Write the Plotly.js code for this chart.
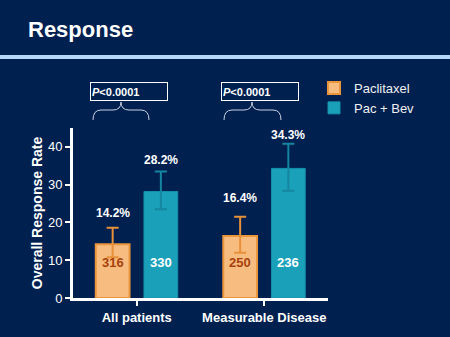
<!DOCTYPE html>
<html>
<head>
<meta charset="utf-8">
<script src="https://cdn.plot.ly/plotly-3.0.1.min.js"></script>
<style>
html,body{margin:0;padding:0;background:#002050;}
#chart{width:450px;height:337px;}
</style>
</head>
<body>
<div id="chart"></div>
<script>
// ---- data ----
const categories = ['All patients', 'Measurable Disease'];
const seriesNames = ['Paclitaxel', 'Pac + Bev'];
const pacValues = [14.2, 16.4];
const bevValues = [28.2, 34.3];
const pacErrPlus = [4.4, 5.1];
const pacErrMinus = [3.4, 4.4];
const bevErrPlus = [5.3, 6.5];
const bevErrMinus = [4.7, 5.9];
const pacN = ['316', '250'];
const bevN = ['330', '236'];
const pValues = ['P<0.0001', 'P<0.0001'];
const yTicks = [0, 10, 20, 30, 40];

// ---- layout helpers (pixel -> paper) ----
const L = 73, R = 328, T = 128, B = 298;
const px = x => (x - L) / (R - L);
const py = y => (B - y) / (B - T);
const FONT = 'Liberation Sans, Arial, Helvetica, sans-serif';
const pacLabelShift = [6, 10];
const bevLabelShift = [2, 0];

function bracePath(x1, x2, xc, ytop, ym, ybot) {
  const p = (x, y) => px(x) + ',' + py(y);
  return 'M' + p(x1, ybot) +
    ' Q' + p(x1, ym) + ' ' + p(x1 + 8, ym) +
    ' L' + p(xc - 8, ym) +
    ' Q' + p(xc, ym) + ' ' + p(xc, ytop) +
    ' Q' + p(xc, ym) + ' ' + p(xc + 8, ym) +
    ' L' + p(x2 - 8, ym) +
    ' Q' + p(x2, ym) + ' ' + p(x2, ybot);
}

const traces = [
  {
    type: 'bar', name: seriesNames[0], x: categories, y: pacValues,
    marker: {color: '#F6BC80', line: {color: '#EC963C', width: 2}},
    error_y: {type: 'data', symmetric: false, array: pacErrPlus, arrayminus: pacErrMinus,
              color: '#E8913A', thickness: 2, width: 6},
    hoverinfo: 'none'
  },
  {
    type: 'bar', name: seriesNames[1], x: categories, y: bevValues,
    marker: {color: '#1BA0BA', line: {color: '#1690AA', width: 1}},
    error_y: {type: 'data', symmetric: false, array: bevErrPlus, arrayminus: bevErrMinus,
              color: '#1585A0', thickness: 2, width: 6},
    hoverinfo: 'none'
  }
];

const annotations = [];
categories.forEach((c, i) => {
  // N labels inside bars
  annotations.push({x: c, y: 9.5, xref: 'x', yref: 'y', xshift: -24, text: '<b>' + pacN[i] + '</b>',
    showarrow: false, font: {family: FONT, size: 13, color: '#A8420C'}});
  annotations.push({x: c, y: 9.5, xref: 'x', yref: 'y', xshift: 24, text: '<b>' + bevN[i] + '</b>',
    showarrow: false, font: {family: FONT, size: 13, color: '#FFFFFF'}});
  // percent labels above error bars
  annotations.push({x: c, y: pacValues[i] + pacErrPlus[i], xref: 'x', yref: 'y', xshift: -24, yshift: pacLabelShift[i],
    yanchor: 'bottom', text: '<b>' + pacValues[i].toFixed(1) + '%</b>',
    showarrow: false, font: {family: FONT, size: 12, color: '#FFFFFF'}});
  annotations.push({x: c, y: bevValues[i] + bevErrPlus[i], xref: 'x', yref: 'y', xshift: 24, yshift: bevLabelShift[i],
    yanchor: 'bottom', text: '<b>' + bevValues[i].toFixed(1) + '%</b>',
    showarrow: false, font: {family: FONT, size: 12, color: '#FFFFFF'}});
});

// p-value boxes
const boxCenters = [128.5, 259.5];
pValues.forEach((p, i) => {
  const html = '<b><i>P</i>' + p.slice(1).replace('<', '&lt;') + '</b>';
  annotations.push({x: px(boxCenters[i]), y: py(91), xref: 'paper', yref: 'paper',
    xanchor: 'center', yanchor: 'middle',
    text: html, showarrow: false, width: 74, height: 15, align: 'left', valign: 'middle',
    bordercolor: '#FFFFFF', borderwidth: 1, borderpad: 1,
    font: {family: FONT, size: 11, color: '#FFFFFF'}});
});

const shapes = [
  {type: 'line', xref: 'paper', yref: 'paper', x0: px(0), x1: px(450), y0: py(57), y1: py(57),
   line: {color: '#B4D6F8', width: 4}},
  {type: 'path', xref: 'paper', yref: 'paper', path: bracePath(93, 149, 121, 102, 110, 120),
   line: {color: '#C8D2E2', width: 1}},
  {type: 'path', xref: 'paper', yref: 'paper', path: bracePath(224, 281, 252, 102, 110, 120),
   line: {color: '#C8D2E2', width: 1}}
];

const layout = {
  width: 450, height: 337,
  paper_bgcolor: '#002050', plot_bgcolor: '#002050',
  margin: {l: L, r: 450 - R, t: T, b: 337 - B, pad: 0},
  title: {text: '<b>Response</b>', font: {family: FONT, size: 22, color: '#FFFFFF'},
          xref: 'container', yref: 'container', x: 28 / 450, xanchor: 'left',
          y: 1 - 29 / 337, yanchor: 'middle'},
  barmode: 'group', bargap: 0.244, bargroupgap: 0.3,
  showlegend: true,
  legend: {x: px(314), xanchor: 'left', y: py(73), yanchor: 'top', bgcolor: 'rgba(0,0,0,0)',
           font: {family: FONT, size: 13, color: '#F0F0F0'}, tracegroupgap: 0},
  xaxis: {range: [-0.5, 1.5], showline: true, linecolor: '#FFFFFF', linewidth: 3,
          ticks: 'outside', ticklen: 5, tickwidth: 2, tickcolor: '#FFFFFF',
          tickfont: {family: FONT, size: 13, color: '#FFFFFF'}, showgrid: false, zeroline: false,
          tickprefix: '<b>', ticksuffix: '</b>', fixedrange: true},
  yaxis: {range: [0, 45], tickvals: yTicks, showline: true, linecolor: '#FFFFFF', linewidth: 3,
          ticks: 'outside', ticklen: 5, tickwidth: 2, tickcolor: '#FFFFFF',
          tickfont: {family: FONT, size: 13, color: '#FFFFFF'}, tickprefix: '<b>', ticksuffix: '</b>',
          showgrid: false, zeroline: false, fixedrange: true,
          title: {text: '<b>Overall Response Rate</b>', font: {family: FONT, size: 14, color: '#FFFFFF'}, standoff: 3}},
  annotations: annotations,
  shapes: shapes
};

Plotly.newPlot('chart', traces, layout, {displayModeBar: false, staticPlot: true});
</script>
</body>
</html>
